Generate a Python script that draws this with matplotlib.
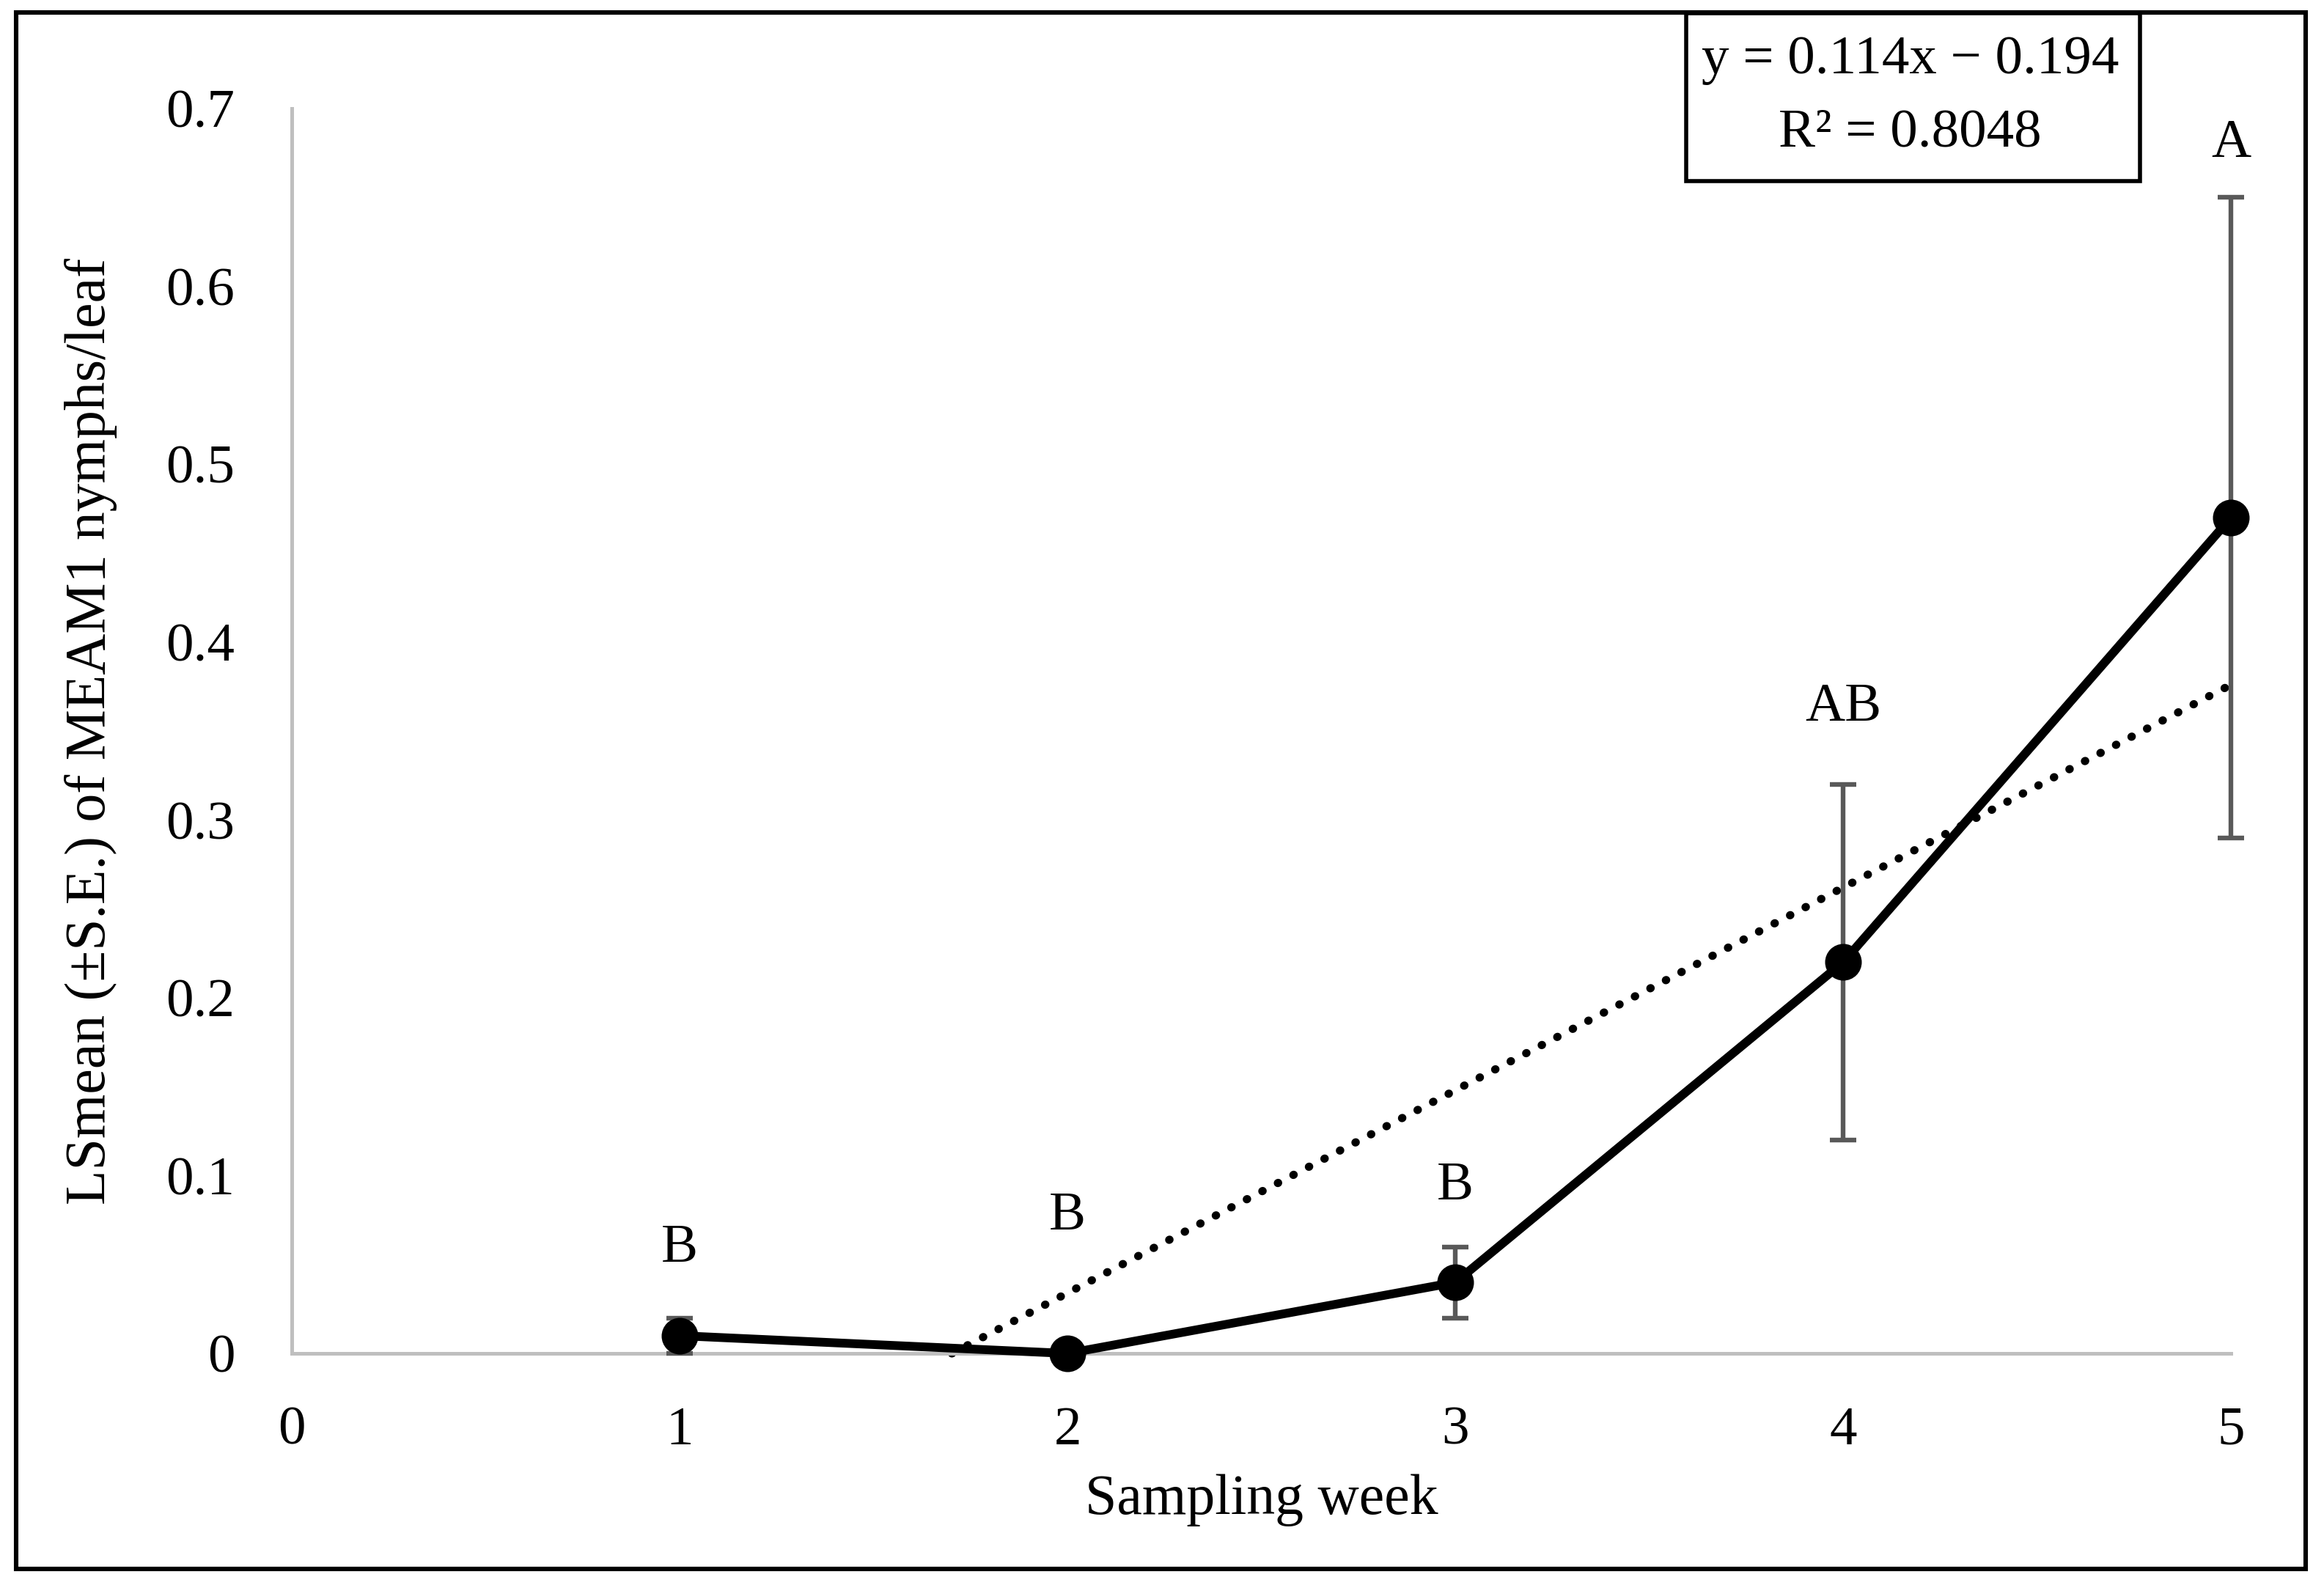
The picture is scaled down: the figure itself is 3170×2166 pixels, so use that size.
import numpy as np
import matplotlib.pyplot as plt
from matplotlib.patches import Rectangle

plt.rcParams['font.family'] = ['Liberation Serif', 'DejaVu Serif']

# data
weeks = [1, 2, 3, 4, 5]
lsmean = [0.01, 0.0, 0.04, 0.22, 0.47]
se = [0.01, 0.0, 0.02, 0.10, 0.18]
letters = ['B', 'B', 'B', 'AB', 'A']
letter_y = [0.059, 0.077, 0.094, 0.363, 0.68]
x_ticks = [0, 1, 2, 3, 4, 5]
y_ticks = [0, 0.1, 0.2, 0.3, 0.4, 0.5, 0.6, 0.7]
equation = "y = 0.114x \u2212 0.194"
r_squared = "R\u00b2 = 0.8048"

fig = plt.figure(figsize=(15.85, 10.83), dpi=200)
ax = fig.add_axes([0.1256, 0.1477, 0.8344, 0.784])

# linear trendline from the means
slope, intercept = np.polyfit(weeks, lsmean, 1)
x_start = -intercept / slope
tx = np.linspace(x_start, weeks[-1], 50)
ax.plot(tx, slope * tx + intercept, color='black', linestyle=(0, (0.05, 2.1)),
        linewidth=4.0, dash_capstyle='round', zorder=2, clip_on=False)

# error bars and means
ax.errorbar(weeks, lsmean, yerr=se, fmt='none', ecolor='#595959',
            elinewidth=2.3, capsize=6.5, capthick=2.3, zorder=3, clip_on=False)
ax.plot(weeks, lsmean, color='black', linewidth=4.3, marker='o',
        markersize=17, zorder=4, clip_on=False)

for w, lab, ly in zip(weeks, letters, letter_y):
    ax.text(w, ly, lab, ha='center', va='center', fontsize=27)

ax.set_xlim(0, 5)
ax.set_ylim(0, 0.7)
ax.set_xticks(x_ticks)
ax.set_yticks(y_ticks)
ax.set_yticklabels(['0'] + [f"{v:.1f}" for v in y_ticks[1:]])
ax.tick_params(length=0, labelsize=27)
ax.tick_params(axis='y', pad=28)
ax.tick_params(axis='x', pad=26)
for s in ['top', 'right']:
    ax.spines[s].set_visible(False)
for s in ['left', 'bottom']:
    ax.spines[s].set_color('#BFBFBF')
    ax.spines[s].set_linewidth(1.8)

ax.set_xlabel("Sampling week", fontsize=28, labelpad=9)
ax.set_ylabel("LSmean (\u00b1S.E.) of MEAM1 nymphs/leaf", fontsize=28, labelpad=24)

# equation box
fig.patches.append(Rectangle((0.7256, 0.886), 0.1953, 0.1057, transform=fig.transFigure,
                             fill=False, edgecolor='black', linewidth=2.0))
fig.text(0.822, 0.962, equation, ha='center', va='center', fontsize=27)
fig.text(0.822, 0.916, r_squared, ha='center', va='center', fontsize=27)

# outer border
fig.patches.append(Rectangle((0.0069, 0.012), 0.9853, 0.980, transform=fig.transFigure,
                             fill=False, edgecolor='black', linewidth=2.2))

fig.savefig("out.png", dpi=200)
